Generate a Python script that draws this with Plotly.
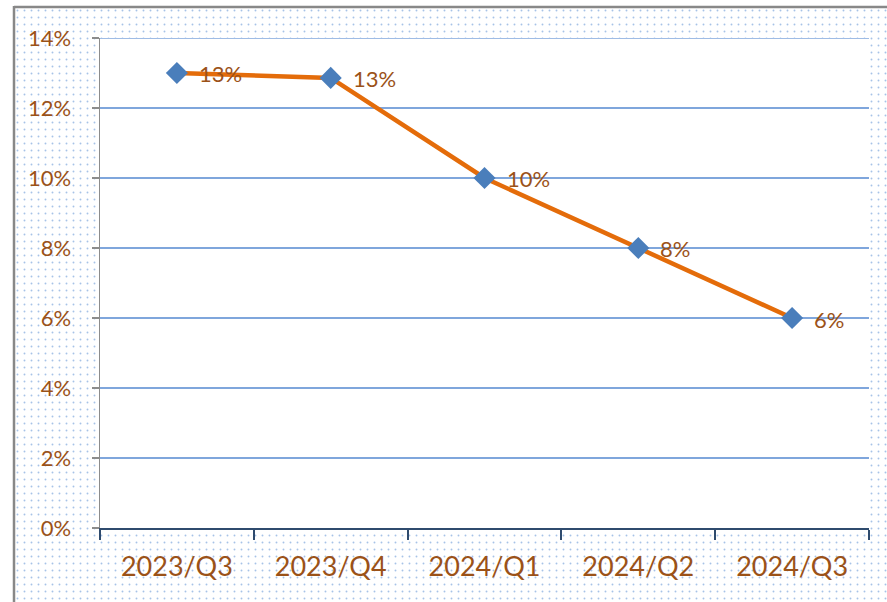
import plotly.graph_objects as go

# ---- data ----
categories = ["2023/Q3", "2023/Q4", "2024/Q1", "2024/Q2", "2024/Q3"]
values = [0.130, 0.1286, 0.100, 0.080, 0.060]
y_ticks = [0, 0.02, 0.04, 0.06, 0.08, 0.10, 0.12, 0.14]
y_tick_labels = ["0%", "2%", "4%", "6%", "8%", "10%", "12%", "14%"]
labels = [f"{round(v * 100)}%" for v in values]

W, H = 887, 602
PL, PR, PT, PB = 100, 869, 38, 528  # plot area in pixels

TEXT = "#9b5218"
FONT = "Lato, Carlito, 'Liberation Sans', sans-serif"

fig = go.Figure()

# dotted chart-area background (frame with a hole for the plot area)
fx = [15, W, W, 15, 15, None, PL, PL, PR, PR, PL]
fy = [8, 8, H, H, 8, None, PT, PB, PB, PT, PT]
fig.add_trace(go.Scatter(
    x=fx, y=fy, xaxis="x", yaxis="y", mode="lines", fill="toself",
    line=dict(width=0, color="rgba(0,0,0,0)"),
    fillcolor="rgba(255,255,255,0)",
    fillpattern=dict(shape=".", fgcolor="#4f86d0", bgcolor="rgba(255,255,255,0)",
                     size=7, solidity=0.06, fillmode="overlay"),
    hoverinfo="skip", showlegend=False,
))

# data series
fig.add_trace(go.Scatter(
    x=categories, y=values, xaxis="x2", yaxis="y2",
    mode="lines+markers",
    line=dict(color="#e46c0a", width=4.5),
    marker=dict(symbol="diamond", size=17, color="#4a7ebb",
                line=dict(width=0)),
    cliponaxis=False, showlegend=False, hoverinfo="skip",
))

annotations = [
    dict(x=c, y=v, xref="x2", yref="y2", text=t, showarrow=False,
         xanchor="left", yanchor="middle", xshift=20, yshift=-1,
         font=dict(family=FONT, size=22, color=TEXT))
    for c, v, t in zip(categories, values, labels)
]

fig.update_layout(
    width=W, height=H,
    margin=dict(l=0, r=0, t=0, b=0),
    paper_bgcolor="white", plot_bgcolor="rgba(0,0,0,0)",
    showlegend=False,
    xaxis=dict(domain=[0, 1], range=[0, W], visible=False, fixedrange=True),
    yaxis=dict(domain=[0, 1], range=[H, 0], visible=False, fixedrange=True),
    xaxis2=dict(
        domain=[PL / W, PR / W], anchor="y2", type="category",
        range=[-0.5, len(categories) - 0.5],
        tickson="boundaries", ticks="outside", ticklen=10, tickwidth=2,
        tickcolor="#2f4b6e", showline=True, linecolor="#2f4b6e", linewidth=2,
        showgrid=False, automargin=False, ticklabelstandoff=14,
        tickfont=dict(family=FONT, size=27, color=TEXT),
    ),
    yaxis2=dict(
        domain=[(H - PB) / H, (H - PT) / H], anchor="x2",
        range=[0, 0.14], tickvals=y_ticks, ticktext=y_tick_labels,
        ticks="outside", ticklen=7, tickwidth=1.5, tickcolor="#8c8c8c",
        showline=True, linecolor="#8c8c8c", linewidth=1.5,
        showgrid=True, gridcolor="#7fa6dc", gridwidth=1.5,
        zeroline=False, automargin=False, ticklabelstandoff=16,
        tickfont=dict(family=FONT, size=22, color=TEXT),
    ),
    annotations=annotations,
    shapes=[
        dict(type="line", xref="x2 domain", yref="y2", x0=0, x1=1,
             y0=y_ticks[-1], y1=y_ticks[-1],
             line=dict(color="#7fa6dc", width=1.5), layer="below"),
        dict(type="line", xref="x", yref="y", x0=14, x1=W, y0=7, y1=7,
             line=dict(color="#888888", width=2.5), layer="above"),
        dict(type="line", xref="x", yref="y", x0=14, x1=14, y0=6, y1=H,
             line=dict(color="#888888", width=2.5), layer="above"),
    ],
)

fig.write_html("out.html", config={"displayModeBar": False, "staticPlot": True},
               post_script="document.body.style.margin='0';document.body.style.overflow='hidden';")
